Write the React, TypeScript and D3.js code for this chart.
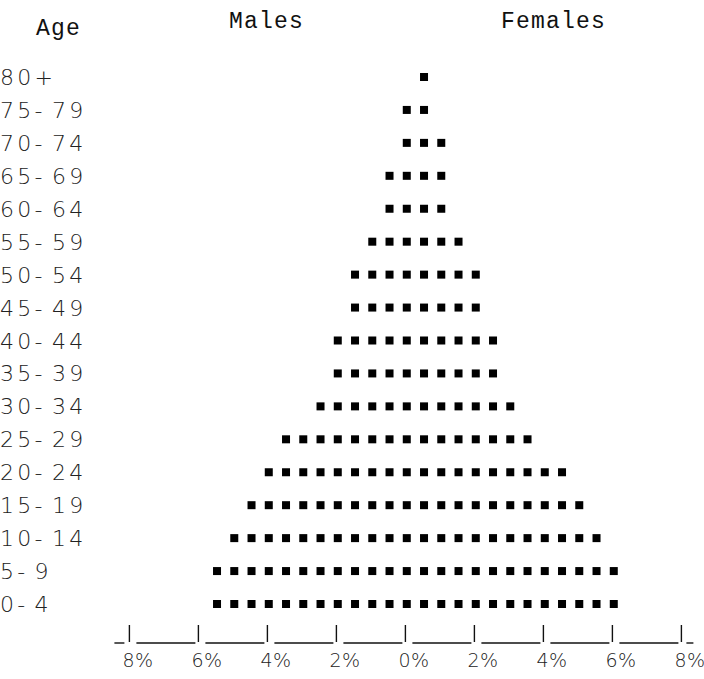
import React, { useRef, useEffect } from "react";
import * as d3 from "d3";

// age groups from the youngest (bottom) to the oldest (top)
const ageGroups = ["0-4", "5-9", "10-14", "15-19", "20-24", "25-29", "30-34", "35-39", "40-44", "45-49", "50-54", "55-59", "60-64", "65-69", "70-74", "75-79", "80+"];
// percent of population, each square = 0.5%
const malePct = [6, 6, 5.5, 5, 4.5, 4, 3, 2.5, 2.5, 2, 2, 1.5, 1, 1, 0.5, 0.5, 0];
const femalePct = [6, 6, 5.5, 5, 4.5, 3.5, 3, 2.5, 2.5, 2, 2, 1.5, 1, 1, 1, 0.5, 0.5];
const tickValues = [-8, -6, -4, -2, 0, 2, 4, 6, 8];
const unit = 0.5;

const W = 704;
const H = 679;

// place each character on a fixed pitch, like a typewriter
function typed(sel: any, str: string, x0: number, y: number, pitch: number) {
  const xs = str.split("").map((_, i) => (x0 + i * pitch).toFixed(1)).join(" ");
  sel.append("text").attr("x", xs).attr("y", y).text(str);
}

const App = () => {
  const ref = useRef<SVGSVGElement>(null);

  useEffect(() => {
    const svg = d3.select(ref.current);
    svg.selectAll("*").remove();

    const x = d3.scaleLinear().domain([-8, 8]).range([139.4, 691.4]);
    const y = d3.scalePoint().domain(ageGroups).range([604, 77]);

    // header
    const head = svg.append("g")
      .attr("font-family", "'Liberation Mono', monospace")
      .attr("font-size", 23)
      .attr("fill", "#111");
    typed(head, "Age", 36, 35, 15);
    typed(head, "Males", 229, 28, 15);
    typed(head, "Females", 501, 28, 15);

    // age labels
    const lab = svg.append("g")
      .attr("font-family", "'DejaVu Sans', sans-serif")
      .attr("font-weight", 200)
      .attr("font-size", 22)
      .attr("fill", "#222");
    ageGroups.forEach(a => typed(lab, a, 0, (y(a) as number) + 8, 17.3));

    // squares
    const sq = 8;
    const marks = svg.append("g").attr("fill", "#000");
    ageGroups.forEach((a, i) => {
      const cy = y(a) as number;
      const nm = Math.round(malePct[i] / unit);
      const nf = Math.round(femalePct[i] / unit);
      for (let k = 0; k < nm; k++) {
        marks.append("rect")
          .attr("x", x(-(k + 0.5) * unit) - sq / 2)
          .attr("y", cy - sq / 2)
          .attr("width", sq)
          .attr("height", sq);
      }
      for (let k = 0; k < nf; k++) {
        marks.append("rect")
          .attr("x", x((k + 0.5) * unit) - sq / 2)
          .attr("y", cy - sq / 2)
          .attr("width", sq)
          .attr("height", sq);
      }
    });

    // typed axis, shifted a little left like the original
    const ax = svg.append("g")
      .attr("transform", "translate(-10,0)")
      .attr("stroke", "#111")
      .attr("stroke-width", 1.4)
      .attr("fill", "none");
    const baseY = 643;
    tickValues.forEach((t, i) => {
      ax.append("line")
        .attr("x1", x(t)).attr("x2", x(t))
        .attr("y1", 625).attr("y2", baseY - 1);
      if (i < tickValues.length - 1) {
        ax.append("line")
          .attr("x1", x(t) + 7).attr("x2", x(tickValues[i + 1]) - 3)
          .attr("y1", baseY).attr("y2", baseY);
      }
    });
    ax.append("line")
      .attr("x1", x(-8) - 15).attr("x2", x(-8) - 5)
      .attr("y1", baseY).attr("y2", baseY);
    ax.append("line")
      .attr("x1", x(8) + 5).attr("x2", x(8) + 12)
      .attr("y1", baseY).attr("y2", baseY);

    const tl = svg.append("g")
      .attr("transform", "translate(-10,0)")
      .attr("font-family", "'DejaVu Sans', sans-serif")
      .attr("font-weight", 200)
      .attr("font-size", 19)
      .attr("fill", "#222");
    tickValues.forEach(t => typed(tl, `${Math.abs(t)}%`, x(t) - 7, 667, 12.5));
  }, []);

  return (
    <svg
      ref={ref}
      width={W}
      height={H}
      style={{ position: "absolute", left: 0, top: 0, background: "#fff" }}
    />
  );
};

export default App;
